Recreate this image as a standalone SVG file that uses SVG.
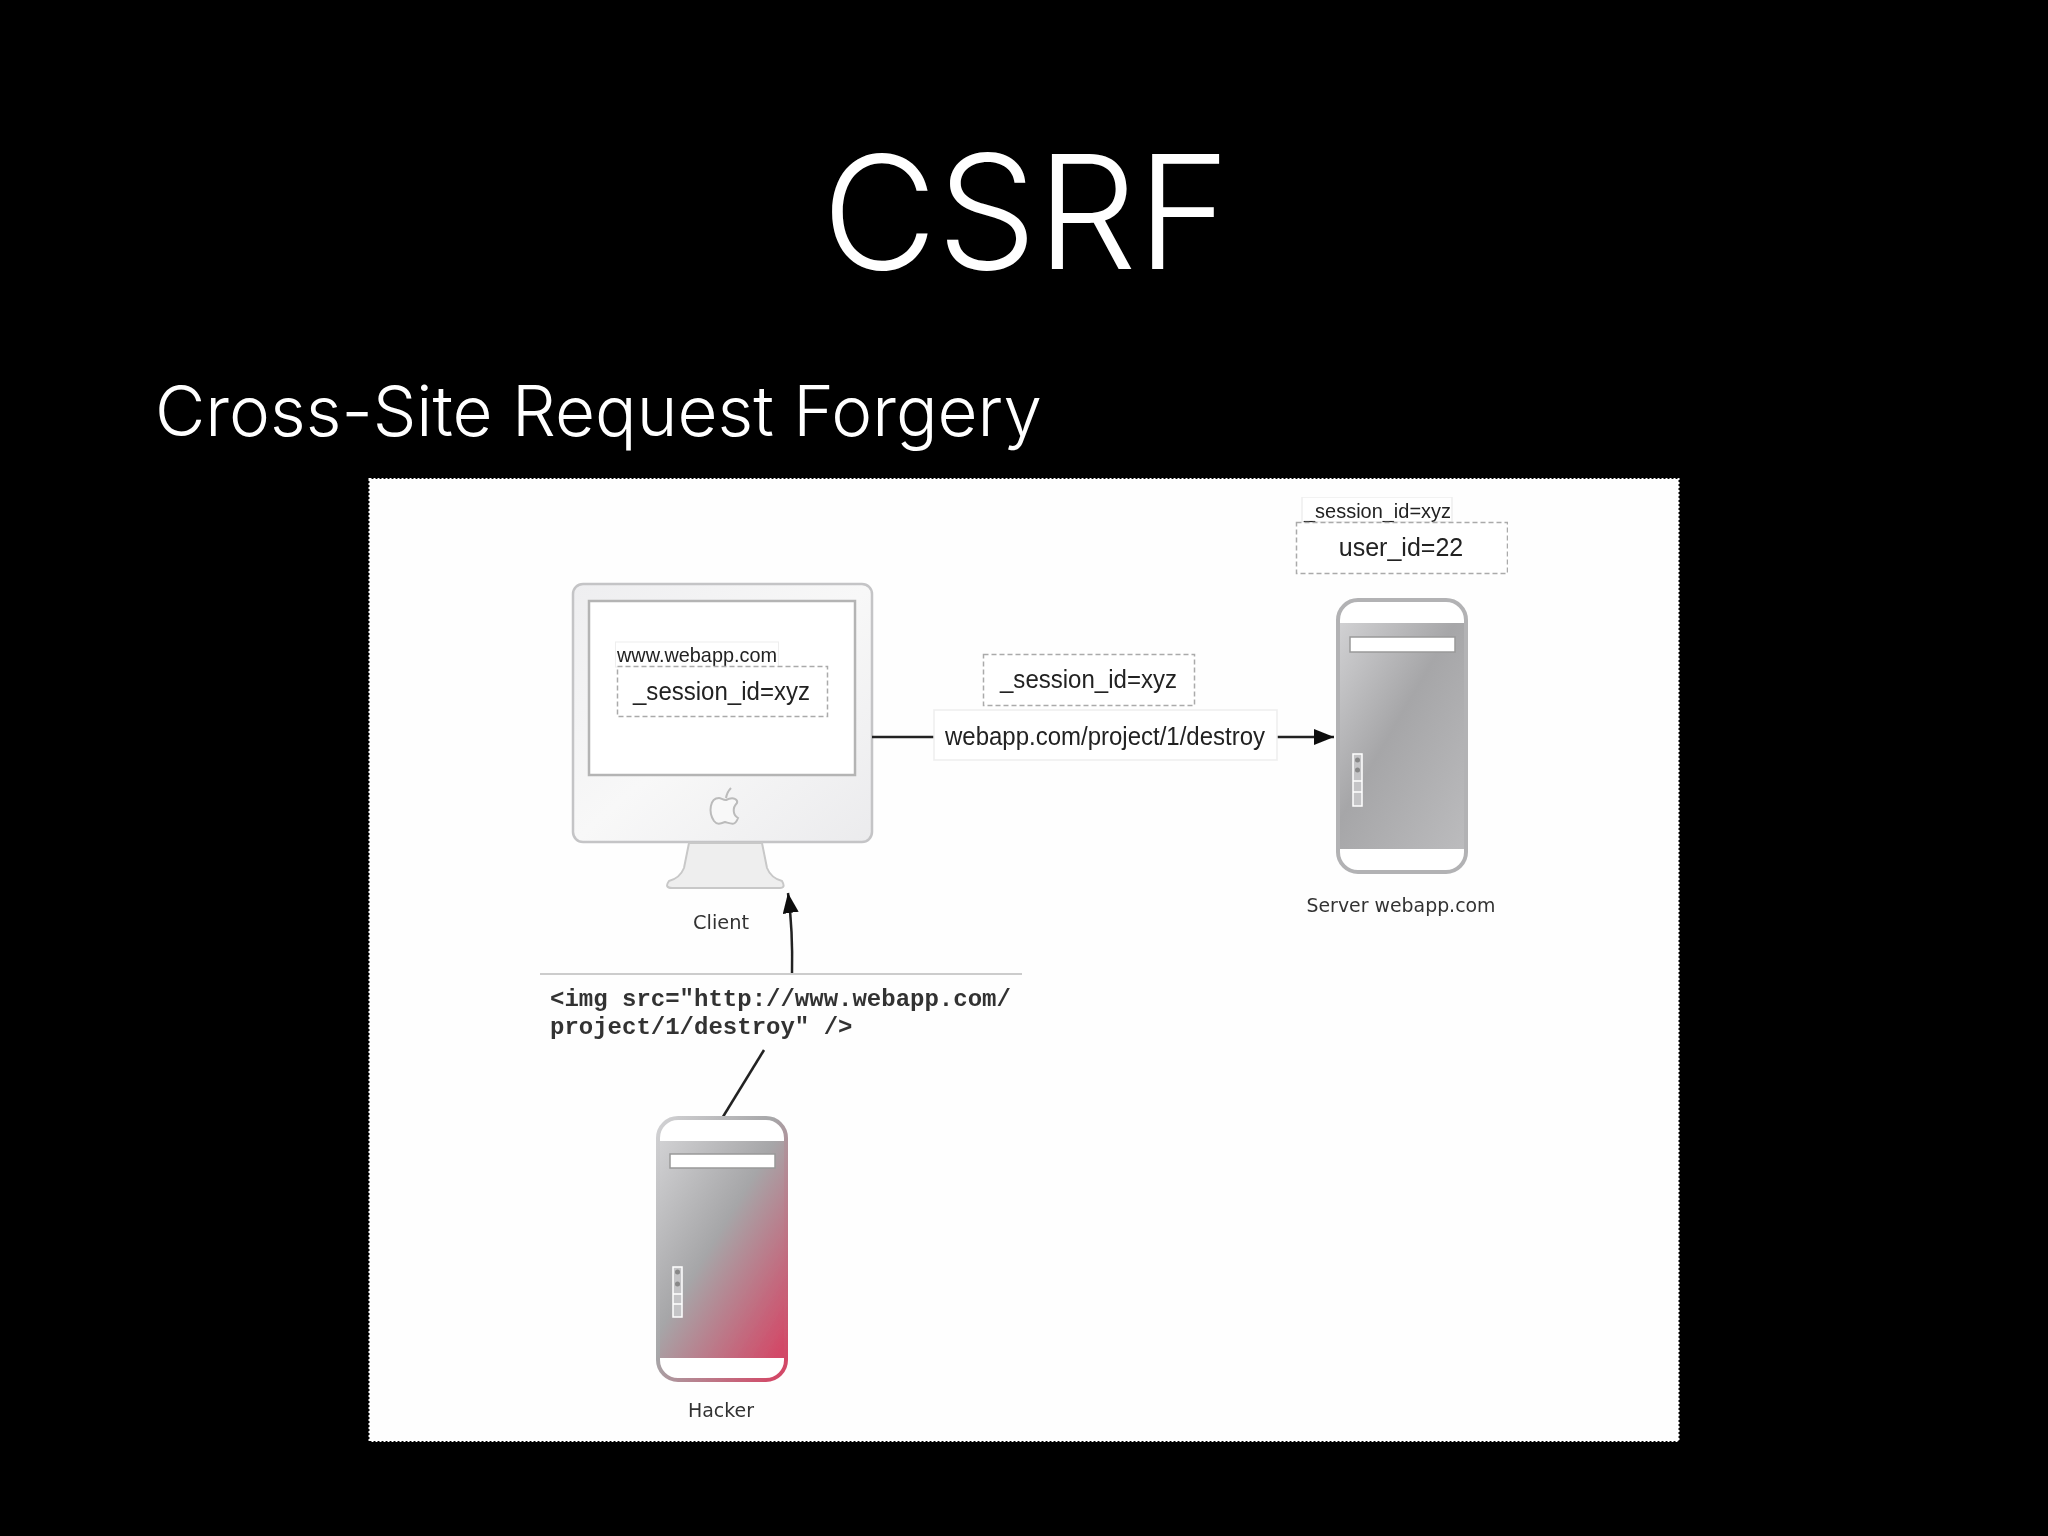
<svg xmlns="http://www.w3.org/2000/svg" width="2048" height="1536" viewBox="0 0 2048 1536">
<style>
.title{font-family:"Inter","Liberation Sans",sans-serif;font-weight:300;fill:#fff}
.s{font-family:"Liberation Sans",Arial,sans-serif;fill:#222}
.l{font-family:"DejaVu Sans",sans-serif;fill:#333;font-size:20px;text-anchor:middle}
.c{font-family:"Liberation Mono",monospace;font-weight:700;font-size:24px;fill:#333}
.d{fill:#fff;stroke:#aaa;stroke-width:1.5;stroke-dasharray:5 3}
.w{fill:#fff;stroke:#eee;stroke-width:1.5}
.ln{stroke:#222;stroke-width:2.5;fill:none}
.bar{fill:#fff;stroke:#999;stroke-width:1.5}
.slot{fill:#c4c4c6;stroke:#fff;stroke-width:1.5}
.led{fill:#888}
.tick{stroke:#fff;stroke-width:1.5}
</style>
<defs>
<linearGradient id="gs" x1="0" y1="0" x2="1" y2="1"><stop offset="0" stop-color="#d2d2d4"/><stop offset=".45" stop-color="#a6a6a8"/><stop offset="1" stop-color="#bcbcbe"/></linearGradient>
<linearGradient id="gh" x1="0" y1="0" x2="1" y2="1"><stop offset="0" stop-color="#d2d2d4"/><stop offset=".45" stop-color="#a6a6a8"/><stop offset=".95" stop-color="#d24a68"/></linearGradient>
<linearGradient id="gm" x1="0" y1="0" x2="1" y2="1"><stop offset="0" stop-color="#eeeef0"/><stop offset=".5" stop-color="#f8f8f8"/><stop offset="1" stop-color="#ebebed"/></linearGradient>
<marker id="a" markerUnits="userSpaceOnUse" markerWidth="22" markerHeight="18" refX="20" refY="8" orient="auto"><path d="M0 0L20 8L0 16Z" fill="#111"/></marker>
<filter id="soft" x="0" y="0" width="1" height="1"><feGaussianBlur stdDeviation="0.7"/></filter>
</defs>
<rect width="2048" height="1536" fill="#000"/>
<text class="title" x="822" y="269" font-size="158" textLength="408" lengthAdjust="spacingAndGlyphs">CSRF</text>
<text class="title" x="155" y="436" font-size="70" textLength="887" lengthAdjust="spacingAndGlyphs">Cross-Site Request Forgery</text>
<rect id="panel" x="369.500" y="479" width="1309" height="962" fill="#fefefe" stroke="#fff" stroke-width="2" stroke-dasharray="2 2"/>
<g filter="url(#soft)">
<g id="client">
<rect x="573" y="584" width="299" height="258" rx="10" fill="url(#gm)" stroke="#c4c4c6" stroke-width="2.500"/>
<rect x="589" y="601" width="266" height="174" fill="#fff" stroke="#b4b4b4" stroke-width="2.500"/>
<path d="M689 843H762L767 868Q771 878 782 881Q786 888 780 888H672Q664 888 669 881Q680 878 684 868Z" fill="#eee" stroke="#c8c8c8" stroke-width="2"/>
<path d="M726 800C734 796 738 800 737 803C732 808 733 815 738 818C735 826 732 824 725 822C720 824 717 825 714 821C708 812 710 798 719 798C721 798 723 800 726 800ZM726 798Q727 792 731 788" fill="#f8f8f8" stroke="#bbb" stroke-width="2"/>
<rect x="615.500" y="642" width="163" height="25" fill="#fff" stroke="#eee"/>
<text class="s" x="617" y="662" font-size="21" textLength="160" lengthAdjust="spacingAndGlyphs">www.webapp.com</text>
<rect class="d" x="617.500" y="666.500" width="210" height="50"/>
<text class="s" x="633" y="700" font-size="25" textLength="177" lengthAdjust="spacingAndGlyphs">_session_id=xyz</text>
<text class="l" x="721" y="929" textLength="56" lengthAdjust="spacingAndGlyphs">Client</text>
</g>
<g id="connectors">
<path class="ln" d="M872 737H934"/>
<path class="ln" d="M1277 737H1334" marker-end="url(#a)"/>
<path class="ln" d="M792 974Q793 930 788 893" marker-end="url(#a)"/>
<path class="ln" stroke-width="2" d="M764 1050L721 1120"/>
</g>
<g id="session-cookie">
<rect class="d" x="983.500" y="654.500" width="211" height="51"/>
<text class="s" x="1000" y="688" font-size="25" textLength="177" lengthAdjust="spacingAndGlyphs">_session_id=xyz</text>
</g>
<g id="request">
<rect class="w" x="934" y="710" width="343" height="50"/>
<text class="s" x="945" y="745" font-size="25" textLength="320" lengthAdjust="spacingAndGlyphs">webapp.com/project/1/destroy</text>
</g>
<g id="server">
<rect x="1338" y="600" width="128" height="272" rx="20" fill="#fff"/>
<rect x="1336" y="623" width="132" height="226" fill="url(#gs)"/>
<rect x="1338" y="600" width="128" height="272" rx="20" fill="none" stroke="#b2b2b4" stroke-width="4"/>
<rect class="bar" x="1350" y="637" width="105" height="15"/>
<rect class="slot" x="1353" y="754" width="9" height="52"/>
<circle class="led" cx="1357.500" cy="760" r="2.500"/><circle class="led" cx="1357.500" cy="770" r="2.500"/>
<path class="tick" d="M1353 781H1362M1353 792H1362"/>
<text class="l" x="1401" y="912" textLength="189" lengthAdjust="spacingAndGlyphs">Server webapp.com</text>
</g>
<g id="server-session">
<rect class="w" x="1302" y="497" width="150" height="25"/>
<text class="s" x="1304" y="518" font-size="21" textLength="147" lengthAdjust="spacingAndGlyphs">_session_id=xyz</text>
<rect class="d" x="1296.500" y="522.500" width="211" height="51"/>
<text class="s" x="1401" y="556" font-size="25" text-anchor="middle">user_id=22</text>
</g>
<g id="payload">
<path d="M540 974H1022" stroke="#ccc" stroke-width="2"/>
<text class="c" x="550" y="1006">&lt;img src="http://www.webapp.com/</text>
<text class="c" x="550" y="1034">project/1/destroy" /&gt;</text>
</g>
<g id="hacker">
<rect x="658" y="1118" width="128" height="262" rx="20" fill="#fff"/>
<rect x="656" y="1141" width="132" height="217" fill="url(#gh)"/>
<rect x="658" y="1118" width="128" height="262" rx="20" fill="none" stroke="url(#gh)" stroke-width="4"/>
<rect class="bar" x="670" y="1154" width="105" height="14"/>
<rect class="slot" x="673" y="1267" width="9" height="50"/>
<circle class="led" cx="677.500" cy="1272" r="2.500"/><circle class="led" cx="677.500" cy="1284" r="2.500"/>
<path class="tick" d="M673 1294H682M673 1304H682"/>
<text class="l" x="721" y="1417" textLength="66" lengthAdjust="spacingAndGlyphs">Hacker</text>
</g>
</g>
</svg>
